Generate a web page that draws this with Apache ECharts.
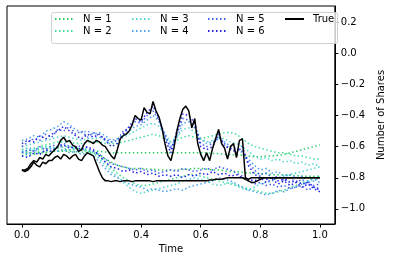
<!DOCTYPE html>
<html>
<head>
<meta charset="utf-8">
<script src="https://cdn.jsdelivr.net/npm/echarts@6/dist/echarts.min.js"></script>
<style>html,body{margin:0;padding:0;background:#fff;}#c{width:394px;height:262px;}</style>
</head>
<body>
<div id="c"></div>
<script>
// ---- data ----
const timeFine = Array.from({length: 101}, (_, i) => +(i * 0.01).toFixed(2));
const timeCoarse = Array.from({length: 51}, (_, i) => +(i * 0.02).toFixed(2));
const xTicks = [0, 0.2, 0.4, 0.6, 0.8, 1.0];
const yTicks = [-1.0, -0.8, -0.6, -0.4, -0.2, 0.0, 0.2];

// True share paths (two components), sampled every 0.01
const trueA = [-0.75,-0.76,-0.75,-0.73,-0.70,-0.72,-0.73,-0.70,-0.71,-0.69,
  -0.69,-0.67,-0.66,-0.68,-0.65,-0.66,-0.68,-0.66,-0.65,-0.68,
  -0.69,-0.66,-0.64,-0.65,-0.66,-0.71,-0.76,-0.80,-0.82,-0.82,
  -0.825,-0.82,-0.82,-0.825,-0.82,-0.82,-0.82,-0.825,-0.82,-0.82,
  -0.82,-0.82,-0.82,-0.82,-0.825,-0.82,-0.82,-0.82,-0.82,-0.82,
  -0.82,-0.82,-0.82,-0.82,-0.82,-0.82,-0.82,-0.82,-0.82,-0.82,
  -0.82,-0.82,-0.82,-0.815,-0.815,-0.81,-0.81,-0.81,-0.805,-0.80,
  -0.80,-0.80,-0.80,-0.80,-0.80,-0.81,-0.82,-0.83,-0.83,-0.82,
  -0.81,-0.80,-0.80,-0.80,-0.80,-0.80,-0.80,-0.80,-0.80,-0.80,
  -0.80,-0.80,-0.80,-0.80,-0.80,-0.80,-0.80,-0.80,-0.80,-0.80,-0.80];
const trueB = [-0.75,-0.75,-0.74,-0.71,-0.69,-0.70,-0.67,-0.68,-0.65,-0.66,
  -0.64,-0.62,-0.60,-0.56,-0.54,-0.57,-0.56,-0.59,-0.60,-0.63,
  -0.62,-0.58,-0.56,-0.57,-0.58,-0.56,-0.57,-0.59,-0.60,-0.63,
  -0.66,-0.68,-0.62,-0.55,-0.53,-0.52,-0.50,-0.46,-0.40,-0.42,
  -0.43,-0.35,-0.38,-0.39,-0.31,-0.37,-0.41,-0.48,-0.58,-0.66,
  -0.69,-0.61,-0.50,-0.42,-0.36,-0.34,-0.37,-0.48,-0.42,-0.58,
  -0.65,-0.69,-0.64,-0.69,-0.61,-0.55,-0.49,-0.58,-0.61,-0.68,
  -0.60,-0.58,-0.67,-0.56,-0.55,-0.80,-0.81,-0.80,-0.80,-0.80,
  -0.80,-0.80,-0.80,-0.80,-0.80,-0.80,-0.80,-0.80,-0.80,-0.80,
  -0.80,-0.80,-0.80,-0.80,-0.80,-0.80,-0.80,-0.80,-0.80,-0.80,-0.80];

// Approximations, sampled every 0.02 (upper and lower component each)
const n1Upper = [-0.66,-0.65,-0.65,-0.64,-0.64,-0.63,-0.63,-0.62,-0.62,-0.62,
  -0.62,-0.63,-0.63,-0.63,-0.635,-0.64,-0.64,-0.64,-0.64,-0.64,
  -0.64,-0.64,-0.64,-0.64,-0.64,-0.64,-0.64,-0.64,-0.64,-0.64,
  -0.64,-0.64,-0.645,-0.645,-0.65,-0.65,-0.655,-0.655,-0.66,-0.665,
  -0.665,-0.66,-0.66,-0.655,-0.65,-0.64,-0.63,-0.62,-0.61,-0.60,-0.59];
const n1Lower = [-0.64,-0.64,-0.64,-0.635,-0.635,-0.63,-0.63,-0.63,-0.63,-0.635,
  -0.635,-0.64,-0.64,-0.65,-0.68,-0.70,-0.72,-0.73,-0.74,-0.74,
  -0.74,-0.745,-0.745,-0.75,-0.75,-0.75,-0.75,-0.745,-0.745,-0.74,
  -0.74,-0.745,-0.75,-0.75,-0.755,-0.76,-0.76,-0.765,-0.77,-0.77,
  -0.775,-0.775,-0.78,-0.78,-0.78,-0.785,-0.785,-0.79,-0.79,-0.79,-0.79];
const n2Upper = [-0.62,-0.61,-0.61,-0.60,-0.59,-0.58,-0.57,-0.57,-0.57,-0.58,
  -0.58,-0.57,-0.57,-0.57,-0.58,-0.58,-0.58,-0.57,-0.56,-0.55,
  -0.54,-0.53,-0.52,-0.53,-0.55,-0.57,-0.56,-0.54,-0.53,-0.54,
  -0.55,-0.54,-0.53,-0.52,-0.51,-0.51,-0.52,-0.55,-0.58,-0.60,
  -0.61,-0.62,-0.63,-0.64,-0.64,-0.65,-0.66,-0.66,-0.67,-0.68,-0.68];
const n2Lower = [-0.63,-0.63,-0.62,-0.62,-0.61,-0.61,-0.61,-0.60,-0.60,-0.61,
  -0.61,-0.62,-0.63,-0.66,-0.70,-0.74,-0.77,-0.80,-0.82,-0.84,
  -0.85,-0.85,-0.84,-0.83,-0.82,-0.81,-0.80,-0.79,-0.78,-0.78,
  -0.79,-0.80,-0.81,-0.82,-0.83,-0.84,-0.85,-0.86,-0.87,-0.88,
  -0.89,-0.90,-0.90,-0.89,-0.88,-0.86,-0.85,-0.83,-0.82,-0.80,-0.79];
const n3Upper = [-0.60,-0.59,-0.58,-0.57,-0.56,-0.55,-0.54,-0.53,-0.54,-0.55,
  -0.56,-0.55,-0.55,-0.54,-0.56,-0.57,-0.56,-0.54,-0.52,-0.50,
  -0.48,-0.46,-0.45,-0.47,-0.52,-0.57,-0.54,-0.49,-0.48,-0.51,
  -0.55,-0.57,-0.56,-0.54,-0.55,-0.57,-0.58,-0.60,-0.63,-0.66,
  -0.68,-0.67,-0.69,-0.68,-0.70,-0.69,-0.71,-0.70,-0.72,-0.71,-0.73];
const n3Lower = [-0.62,-0.61,-0.62,-0.61,-0.60,-0.61,-0.60,-0.61,-0.62,-0.61,
  -0.62,-0.63,-0.64,-0.68,-0.72,-0.76,-0.79,-0.83,-0.86,-0.89,
  -0.90,-0.89,-0.88,-0.87,-0.86,-0.85,-0.84,-0.82,-0.81,-0.80,
  -0.81,-0.82,-0.84,-0.85,-0.84,-0.83,-0.85,-0.87,-0.88,-0.86,
  -0.84,-0.83,-0.82,-0.80,-0.79,-0.78,-0.77,-0.76,-0.75,-0.74,-0.73];
const n4Upper = [-0.56,-0.55,-0.53,-0.54,-0.50,-0.49,-0.47,-0.44,-0.46,-0.49,
  -0.51,-0.50,-0.52,-0.51,-0.53,-0.56,-0.55,-0.52,-0.50,-0.47,
  -0.46,-0.43,-0.40,-0.44,-0.53,-0.60,-0.54,-0.45,-0.44,-0.48,
  -0.55,-0.58,-0.57,-0.55,-0.57,-0.60,-0.61,-0.64,-0.68,-0.72,
  -0.75,-0.74,-0.77,-0.76,-0.79,-0.78,-0.80,-0.79,-0.82,-0.81,-0.83];
const n4Lower = [-0.63,-0.65,-0.62,-0.64,-0.63,-0.61,-0.63,-0.62,-0.64,-0.63,
  -0.65,-0.64,-0.66,-0.70,-0.74,-0.78,-0.80,-0.82,-0.84,-0.85,
  -0.86,-0.88,-0.87,-0.88,-0.89,-0.88,-0.87,-0.88,-0.86,-0.85,
  -0.84,-0.83,-0.82,-0.80,-0.81,-0.82,-0.84,-0.86,-0.88,-0.89,
  -0.90,-0.91,-0.90,-0.88,-0.89,-0.87,-0.86,-0.84,-0.83,-0.82,-0.80];
const n5Upper = [-0.60,-0.57,-0.55,-0.56,-0.52,-0.54,-0.49,-0.50,-0.47,-0.52,
  -0.50,-0.54,-0.51,-0.53,-0.55,-0.57,-0.56,-0.50,-0.48,-0.44,
  -0.45,-0.40,-0.37,-0.43,-0.52,-0.62,-0.52,-0.42,-0.43,-0.47,
  -0.58,-0.60,-0.58,-0.54,-0.58,-0.62,-0.62,-0.63,-0.70,-0.75,
  -0.78,-0.77,-0.80,-0.79,-0.82,-0.80,-0.83,-0.81,-0.84,-0.85,-0.84];
const n5Lower = [-0.64,-0.62,-0.63,-0.60,-0.62,-0.59,-0.60,-0.58,-0.60,-0.61,
  -0.59,-0.61,-0.63,-0.65,-0.68,-0.71,-0.72,-0.73,-0.74,-0.75,
  -0.74,-0.76,-0.75,-0.77,-0.76,-0.75,-0.76,-0.74,-0.75,-0.76,
  -0.75,-0.74,-0.75,-0.73,-0.74,-0.75,-0.77,-0.79,-0.82,-0.84,
  -0.83,-0.85,-0.84,-0.86,-0.85,-0.87,-0.86,-0.85,-0.88,-0.86,-0.87];
const n6Upper = [-0.58,-0.56,-0.57,-0.53,-0.55,-0.52,-0.50,-0.47,-0.50,-0.53,
  -0.55,-0.52,-0.54,-0.52,-0.56,-0.60,-0.58,-0.52,-0.47,-0.42,
  -0.44,-0.38,-0.34,-0.42,-0.55,-0.64,-0.50,-0.39,-0.40,-0.45,
  -0.60,-0.62,-0.60,-0.52,-0.60,-0.61,-0.64,-0.60,-0.72,-0.78,
  -0.79,-0.81,-0.80,-0.82,-0.81,-0.83,-0.82,-0.84,-0.83,-0.86,-0.88];
const n6Lower = [-0.66,-0.67,-0.64,-0.65,-0.62,-0.63,-0.60,-0.59,-0.61,-0.60,
  -0.62,-0.60,-0.62,-0.66,-0.70,-0.73,-0.74,-0.76,-0.75,-0.77,
  -0.76,-0.78,-0.77,-0.79,-0.78,-0.79,-0.78,-0.80,-0.78,-0.79,
  -0.77,-0.78,-0.76,-0.78,-0.77,-0.79,-0.78,-0.80,-0.81,-0.82,
  -0.80,-0.83,-0.81,-0.84,-0.82,-0.85,-0.83,-0.86,-0.84,-0.87,-0.89];

const approxNames = ['N = 1','N = 2','N = 3','N = 4','N = 5','N = 6'];
const approxColors = ['#2fcc66','#3fdc99','#55d8d4','#4ea2ec','#4560ee','#2222e6'];
const approxPaths = [[n1Upper,n1Lower],[n2Upper,n2Lower],[n3Upper,n3Lower],
                     [n4Upper,n4Lower],[n5Upper,n5Lower],[n6Upper,n6Lower]];

// ---- chart ----
const FONT = 'DejaVu Sans';
const zip = (t, v) => t.map((x, i) => [x, v[i]]);
const series = [];
approxPaths.forEach((pair, k) => {
  pair.forEach(vals => {
    series.push({
      name: approxNames[k], type: 'line', data: zip(timeCoarse, vals),
      symbol: 'none', showSymbol: false, silent: true,
      lineStyle: { color: approxColors[k], width: 1.5, type: [1.5, 2.5] },
      itemStyle: { color: approxColors[k] }, z: 2
    });
  });
});
[trueA, trueB].forEach(vals => {
  series.push({
    name: 'True', type: 'line', data: zip(timeFine, vals),
    symbol: 'none', showSymbol: false, silent: true,
    lineStyle: { color: '#000', width: 1.5 }, itemStyle: { color: '#000' }, z: 3
  });
});

const fmt = v => (v < 0 ? '\u2212' : '') + Math.abs(v).toFixed(1);
const legendCommon = {
  orient: 'vertical', padding: 0, itemGap: 2, itemWidth: 19, itemHeight: 10,
  selectedMode: false, z: 10,
  itemStyle: { color: 'transparent', borderColor: 'transparent', borderWidth: 0, opacity: 0 },
  textStyle: { fontFamily: FONT, fontSize: 10, color: '#000', padding: [0, 0, 0, 4] }
};
const chart = echarts.init(document.getElementById('c'), null, { renderer: 'canvas' });
chart.setOption({
  animation: false,
  backgroundColor: '#fff',
  grid: { left: 7, right: 51, top: 6, bottom: 38, show: true, borderColor: '#000', borderWidth: 1, backgroundColor: 'transparent' },
  graphic: [{
    type: 'rect', left: 51, top: 12, z: 9,
    shape: { width: 286, height: 31, r: 2 },
    style: { fill: 'rgba(255,255,255,0.8)', stroke: '#d0d0d0', lineWidth: 1 }
  }],
  legend: [
    Object.assign({ left: 54, top: 14, data: ['N = 1', 'N = 2'] }, legendCommon),
    Object.assign({ left: 131, top: 14, data: ['N = 3', 'N = 4'] }, legendCommon),
    Object.assign({ left: 207, top: 14, data: ['N = 5', 'N = 6'] }, legendCommon),
    Object.assign({ left: 284, top: 14, data: ['True'] }, legendCommon)
  ],
  xAxis: {
    type: 'value', min: -0.05, max: 1.05,
    name: 'Time', nameLocation: 'middle', nameGap: 20,
    nameTextStyle: { fontFamily: FONT, fontSize: 10, color: '#000' },
    axisLine: { show: true, onZero: false, lineStyle: { color: '#000', width: 1 } },
    axisTick: { show: true, customValues: xTicks, length: 3.5, lineStyle: { color: '#000' } },
    axisLabel: { customValues: xTicks, formatter: fmt, margin: 6, fontFamily: FONT, fontSize: 10, color: '#000' },
    splitLine: { show: false }
  },
  yAxis: {
    type: 'value', position: 'right', min: -1.097, max: 0.303,
    name: 'Number of Shares', nameLocation: 'middle', nameGap: 30, nameRotate: 90,
    nameTextStyle: { fontFamily: FONT, fontSize: 10, color: '#000' },
    axisLine: { show: true, onZero: false, lineStyle: { color: '#000', width: 1 } },
    axisTick: { show: true, customValues: yTicks, length: 3.5, lineStyle: { color: '#000' } },
    axisLabel: { customValues: yTicks, formatter: fmt, margin: 6, fontFamily: FONT, fontSize: 10, color: '#000' },
    splitLine: { show: false }
  },
  series: series
});
</script>
</body>
</html>
